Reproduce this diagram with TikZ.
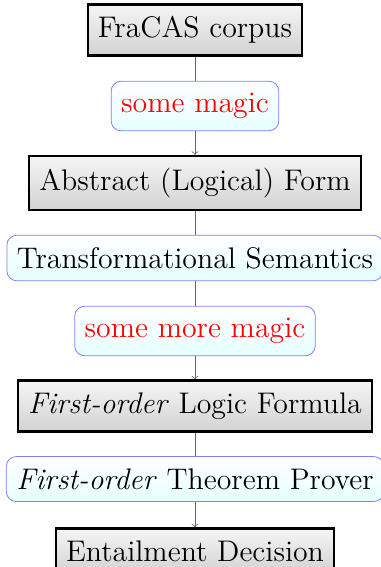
\documentclass[tikz,border=0pt]{standalone}
\begin{document}
\begin{tikzpicture}[x=0.5pt,y=-0.5pt,>=to,font=\fontsize{14.9}{18}\selectfont,
		stage/.style={draw=black,very thick,top color=gray!8,bottom color=gray!35,inner xsep=5pt,inner ysep=6pt},
		tool/.style={draw=blue!50,rounded corners=5pt,top color=white,bottom color=cyan!10,inner xsep=5pt,inner ysep=6pt},
		link/.style={draw=black!60}]
	\useasboundingbox (0,0) rectangle (380,567);
	\node[stage] (corpus) at (195,30) {FraCAS corpus};
	\node[tool,text=red] (magic) at (195,106) {some magic};
	\node[stage] (alf) at (195,183) {Abstract (Logical) Form};
	\node[tool] (sem) at (195,258) {Transformational Semantics};
	\node[tool,text=red] (moremagic) at (195,331) {some more magic};
	\node[stage] (fol) at (195,406) {\textit{First-order} Logic Formula};
	\node[tool] (prover) at (195,479) {\textit{First-order} Theorem Prover};
	\node[stage] (decision) at (195,551) {Entailment Decision};
	\draw[link] (corpus)--(magic) (alf)--(sem) (sem)--(moremagic) (fol)--(prover);
	\draw[link,->] (magic)--(alf);
	\draw[link,->] (moremagic)--(fol);
	\draw[link,->] (prover)--(decision);
\end{tikzpicture}
\end{document}
